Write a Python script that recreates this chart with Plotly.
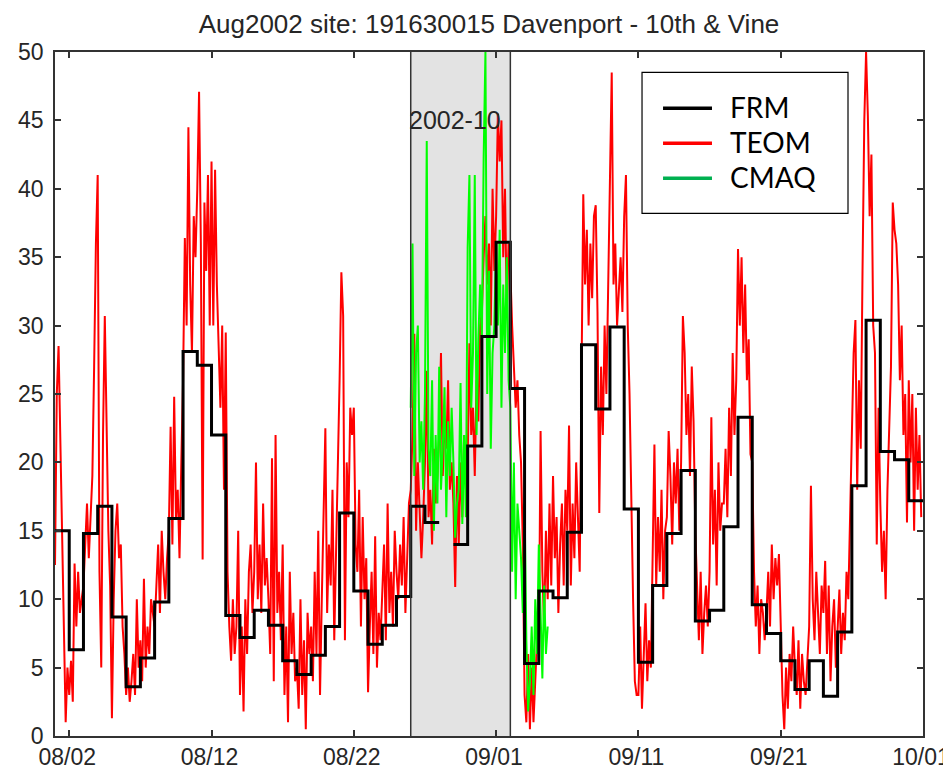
import pandas as pd
import plotly.graph_objects as go

# daily FRM (24h filter), Aug 1 .. Sep 30; None = missing day
frm_aug = [15.0, 6.3, 14.8, 16.8, 8.7, 3.6, 5.7, 9.8, 15.9, 28.1, 27.1, 22.0, 8.8, 7.2, 9.2, 8.1,
           5.5, 4.5, 5.9, 8.0, 16.3, 10.6, 6.7, 8.1, 10.2, 16.8, 15.6, None, 14.0, 21.2, 29.2]
frm_sep = [36.1, 25.4, 5.3, 10.6, 10.1, 14.9, 28.6, 23.9, 29.9, 16.6, 5.4, 11.0, 14.8, 19.4, 8.4,
           9.2, 15.3, 23.3, 9.6, 7.5, 5.5, 3.4, 5.5, 2.9, 7.6, 18.3, 30.4, 20.8, 20.2, 17.2]

# TEOM, 3-hourly, one row per day
teom_aug = [
    12.5, 25, 28.5, 21, 14, 9, 1, 5,
    3, 5.5, 2.5, 12.6, 8, 12, 9, 10,
    11, 14, 17, 13, 16, 19, 27, 36,
    41, 12, 5, 22, 30.7, 21.5, 15, 11,
    1.3, 10, 15, 17, 13, 14, 8, 6,
    3, 5, 2.5, 4, 6, 3, 10, 5,
    7, 4, 11.5, 5, 8, 6, 10, 9,
    8, 11, 14, 9, 15, 12, 10, 13,
    15, 22.6, 14, 24.8, 16, 18, 13, 20,
    26, 36.4, 30, 44.5, 33, 28, 38, 35,
    40, 47.1, 36, 12.9, 39, 34, 41, 30,
    42, 30, 41.4, 33, 28, 24, 30, 18,
    29.5, 12, 8, 5.5, 10, 6, 8, 15,
    3, 8, 1.8, 10, 6, 12, 14, 9,
    12, 20, 10, 14, 9, 17, 11, 13,
    10, 6, 20.3, 4, 22, 9, 12, 7,
    14, 3, 8, 1, 12, 6, 9, 4,
    5, 2, 10, 3, 7, 0.5, 9, 6,
    8, 4, 12, 6, 15, 3, 10, 17,
    22.5, 9, 14, 11, 18, 7, 13, 20,
    26, 33.9, 30.7, 7, 20, 16, 24, 22,
    24, 14, 12, 18, 8, 16, 10, 13,
    3.2, 8, 12, 6, 14.6, 5, 9, 7,
    10, 14, 7, 17, 9, 12, 8, 15,
    12, 10, 14, 11, 16, 9, 13, 17,
    18, 22, 29.4, 15, 20, 17, 13, 16,
    20, 26.7, 16, 18, 14, 21, 17, 19,
    22, 28, 19, 23, 21, 26, 18, 20,
    17, 10.9, 19, 14, 20, 16, 22, 18,
    20, 28.7, 22, 24, 19, 26, 23, 30,
    31, 35, 38, 33, 36, 30, 40, 34,
]
teom_sep = [
    38, 45.5, 42, 45, 35, 40, 31, 36,
    34, 30, 27, 24, 26, 22, 20, 14,
    3, 1, 6, 0.5, 5, 1, 4, 7,
    6, 22.3, 12, 8, 15, 10, 17, 11,
    19, 13, 16, 9, 14, 17, 11, 18,
    15, 22.7, 11, 17, 13, 20, 16, 12,
    26, 39.6, 33, 37, 30, 36, 32, 38,
    38.8, 31, 16.3, 27, 22, 30, 25, 33,
    40, 48.5, 33, 36, 30, 33, 35, 31,
    38, 41, 30, 25, 16.6, 10, 4, 3,
    3, 8, 2, 6, 9.7, 4, 7, 5,
    14, 21.3, 11, 16, 12, 18, 10, 15,
    16, 22.3, 19, 14, 20, 17, 21, 15,
    20, 30.7, 28, 22, 25, 19, 27, 23,
    14.9, 10, 7, 12, 6, 9, 11, 8,
    12, 23.3, 14, 18, 11, 20, 15, 17,
    17, 21, 16, 24, 19, 28, 22, 26,
    35.6, 30, 35, 28, 33, 26, 29, 20.6,
    20, 12, 8, 11, 6, 10, 9, 7,
    9, 12, 8, 14, 10, 13, 11, 13.3,
    7, 3, 0.5, 5, 2, 6, 4, 8,
    5, 3, 7, 2, 6, 4, 3, 6,
    8, 18.3, 10, 7, 12, 9, 6, 11,
    9, 12.8, 6, 11, 4, 8, 10, 5,
    8, 10.7, 6, 9, 7, 12, 10, 16,
    22, 28, 30.4, 18, 26, 21, 34, 45,
    50, 45.3, 38, 42.5, 30, 28, 14, 24,
    17, 12, 15, 10, 18, 22, 27, 39,
    37, 36, 33, 26, 30, 22, 25, 15.6,
    26, 20, 25, 15, 24, 18, 22, 16,
]

# CMAQ model, 3-hourly from Aug 26
cmaq = [
    24, 36, 19, 28, 30, 20, 23, 18,
    25, 43.5, 21, 19, 26, 15, 22, 17,
    27, 18, 21, 25.5, 16, 23, 19, 24,
    20, 14.5, 17, 18, 25.8, 15.5, 22, 16,
    35.7, 41, 24, 28, 41, 22, 29, 33,
    29, 42.3, 50, 25, 34, 21, 28, 30,
    36, 30, 37, 24, 33, 28, 35, 26,
    24, 12, 20, 10, 17, 15, 13, 9,
    17, 7, 1.8, 4, 8, 3, 10, 6,
    14, 9, 4.2, 11, 6, 8,
]

tick_dates = ["2002-08-02", "2002-08-12", "2002-08-22", "2002-09-01", "2002-09-11", "2002-09-21", "2002-10-01"]
tick_labels = ["08/02", "08/12", "08/22", "09/01", "09/11", "09/21", "10/01"]
episode = ("2002-08-26", "2002-09-02")
episode_label = "2002-10"
title = "Aug2002 site: 191630015 Davenport - 10th & Vine"

frm = frm_aug + frm_sep
teom = teom_aug + teom_sep
days = pd.date_range("2002-08-01", periods=len(frm) + 1, freq="D")
teom_t = pd.date_range("2002-08-01", periods=len(teom), freq="3h")
cmaq_t = pd.date_range(episode[0], periods=len(cmaq), freq="3h")

# build daily step line with breaks on missing days
step_x, step_y = [], []
for i, v in enumerate(frm):
    if v is None:
        step_x.append(None)
        step_y.append(None)
        continue
    step_x += [days[i], days[i + 1]]
    step_y += [v, v]

fig = go.Figure()
fig.add_trace(go.Scatter(x=teom_t, y=teom, mode="lines", line=dict(color="#FF0000", width=2), name="TEOM"))
fig.add_trace(go.Scatter(x=cmaq_t, y=cmaq, mode="lines", line=dict(color="#00FF00", width=2), name="CMAQ"))
fig.add_trace(go.Scatter(x=step_x, y=step_y, mode="lines", line=dict(color="#000000", width=3), name="FRM"))

fig.add_shape(type="rect", xref="x", yref="paper", x0=episode[0], x1=episode[1], y0=0, y1=1,
              fillcolor="#E3E3E3", line_width=0, layer="below")
for xe in episode:
    fig.add_shape(type="line", xref="x", yref="paper", x0=xe, x1=xe, y0=0, y1=1,
                  line=dict(color="#333333", width=1.5))
fig.add_annotation(x=episode[0], y=45, xref="x", yref="y", text=episode_label, showarrow=False,
                   xanchor="left", yanchor="middle", xshift=-4,
                   font=dict(family="Liberation Sans", size=25, color="#262626"))

# hand-drawn legend box (paper coords)
fig.add_shape(type="rect", xref="paper", yref="paper", x0=0.6763, x1=0.9136, y0=0.7642, y1=0.9703,
              fillcolor="white", line=dict(color="#000000", width=1.2))
legend_items = [("FRM", "#000000", 0.9177), ("TEOM", "#FF0000", 0.8665), ("CMAQ", "#00B050", 0.8154)]
for label, color, yy in legend_items:
    fig.add_shape(type="line", xref="paper", yref="paper", x0=0.7005, x1=0.7569, y0=yy, y1=yy,
                  line=dict(color=color, width=3.5))
    fig.add_annotation(x=0.7753, y=yy + 0.002, xref="paper", yref="paper", text=label, showarrow=False,
                       xanchor="left", yanchor="middle", font=dict(family="Lato", size=28, color="#000000"))

axis_style = dict(showline=True, mirror="ticks", linecolor="#333333", linewidth=1.5, ticks="inside",
                  ticklen=6, tickcolor="#333333", tickwidth=1.5, showgrid=False, zeroline=False,
                  automargin=False, ticklabeloverflow="allow",
                  tickfont=dict(family="Liberation Sans", size=23, color="#262626"))
fig.update_xaxes(type="date", range=["2002-08-01", "2002-10-01"], tickmode="array",
                 tickvals=tick_dates, ticktext=tick_labels, ticklabelstandoff=0, ticklabelshift=-2,
                 **axis_style)
fig.update_yaxes(range=[0, 50], dtick=5, tick0=0, ticklabelstandoff=5, **axis_style)

# page body adds an 8px offset, so the figure is sized to fill the rest of the window
fig.update_layout(
    width=943, height=765,
    margin=dict(l=47, r=28, t=44, b=37),
    plot_bgcolor="white", paper_bgcolor="white",
    showlegend=False,
    title=dict(text=title, x=0.5, xref="paper", xanchor="center", y=0.9797, yref="container",
               yanchor="middle", font=dict(family="Liberation Sans", size=26, color="#262626")),
)

fig.write_html("out.html")
